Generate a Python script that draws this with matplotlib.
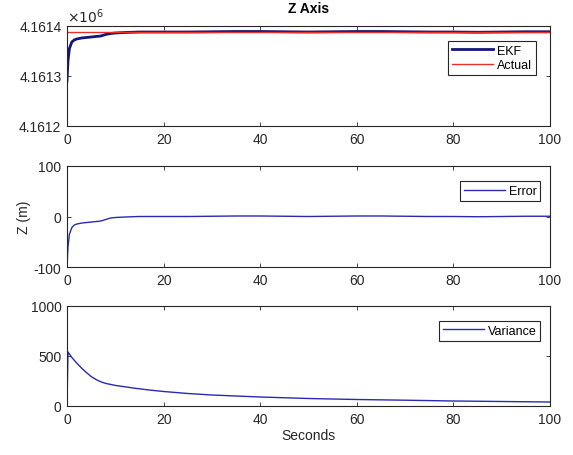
import matplotlib
matplotlib.use("Agg")
import matplotlib.pyplot as plt
from matplotlib.ticker import FuncFormatter

plt.rcParams['font.family'] = ['Liberation Sans', 'DejaVu Sans']
plt.rcParams['axes.unicode_minus'] = False

# Top panel: position (m)
t_pos = [0, 0.2, 0.5, 1, 1.5, 2, 3, 4, 5, 6, 7, 8, 9, 10, 12, 15, 20, 25, 30,
         35, 40, 45, 50, 55, 60, 65, 70, 75, 80, 85, 90, 95, 100]
ekf = [4161290, 4161330, 4161355, 4161368, 4161372, 4161374, 4161376, 4161377,
       4161378, 4161379, 4161380, 4161383, 4161385, 4161386, 4161387, 4161388,
       4161388, 4161388, 4161388.5, 4161389, 4161389, 4161388.5, 4161388,
       4161388.5, 4161389, 4161389, 4161388.5, 4161388, 4161388, 4161387.5,
       4161388, 4161388.5, 4161388.5]
t_actual = [0, 100]
actual = [4161388, 4161388]

# Middle panel: error (m)
t_err = t_pos
error = [-100, -60, -35, -22, -17, -15, -13, -12, -11, -10, -9, -6, -3, -2, -1,
         0, 0, 0, 0.5, 1, 1, 0.5, 0, 0.5, 1, 1, 0.5, 0, 0, -0.5, 0, 0.5, 0.5]

# Bottom panel: variance
t_var = [0, 0.2, 1, 2, 3, 4, 5, 6, 7, 8, 10, 12, 14, 17, 20, 25, 30, 40, 50,
         60, 70, 80, 90, 100]
variance = [0, 540, 485, 430, 380, 335, 295, 265, 242, 226, 206, 192, 178, 160,
            145, 125, 110, 90, 75, 65, 58, 50, 45, 40]

W, H = 573, 456
fig = plt.figure(figsize=(W / 100, H / 100), dpi=100)

def box(y_top, y_bot, x_left=67, x_right=550):
    return [x_left / W, 1 - y_bot / H, (x_right - x_left) / W, (y_bot - y_top) / H]

edge = '#262626'
fs = 10

def style(ax):
    for s in ax.spines.values():
        s.set_color(edge)
        s.set_linewidth(0.8)
    ax.tick_params(direction='in', top=True, right=True, colors=edge,
                   labelsize=fs, length=3, width=0.6, pad=4)
    ax.set_xlim(0, 100)
    ax.set_xticks([0, 20, 40, 60, 80, 100])

def legend(ax, anchor, **kw):
    leg = ax.legend(loc='upper right', bbox_to_anchor=anchor, fontsize=9,
                    handlelength=3.3, frameon=True, fancybox=False,
                    borderpad=0.3, handletextpad=0.3, borderaxespad=0, **kw)
    leg.get_frame().set_edgecolor(edge)
    leg.get_frame().set_linewidth(0.8)
    leg.get_frame().set_alpha(1)

ax1 = fig.add_axes(box(27, 127))
ax2 = fig.add_axes(box(167, 268))
ax3 = fig.add_axes(box(307, 407))

# Top
ax1.plot(t_pos, ekf, color='#14147a', lw=2.0, label='EKF')
ax1.plot(t_actual, actual, color='#e8302a', lw=1.0, label='Actual')
ax1.set_ylim(4161200, 4161400)
ax1.set_yticks([4161200, 4161300, 4161400])
ax1.yaxis.set_major_formatter(FuncFormatter(lambda v, p: f"{v / 1e6:.4f}"))
style(ax1)
ax1.set_title('Z Axis', fontsize=fs, fontweight='bold', pad=10)
ax1.text(0, 1.01, r'$\times10^6$', transform=ax1.transAxes, fontsize=fs,
         color=edge, ha='left', va='bottom')
legend(ax1, (0.97, 0.85), labelspacing=0.2)

# Middle
ax2.plot(t_err, error, color='#2a2ab0', lw=1.0, label='Error')
ax2.set_ylim(-100, 100)
ax2.set_yticks([-100, 0, 100])
style(ax2)
ax2.set_ylabel('Z (m)', fontsize=fs, color=edge, labelpad=2)
legend(ax2, (0.98, 0.85))

# Bottom
ax3.plot(t_var, variance, color='#2a2ab0', lw=1.0, label='Variance')
ax3.set_ylim(0, 1000)
ax3.set_yticks([0, 500, 1000])
style(ax3)
ax3.set_xlabel('Seconds', fontsize=fs, color=edge, labelpad=2)
legend(ax3, (0.98, 0.85))

fig.savefig('out.png', dpi=100)
